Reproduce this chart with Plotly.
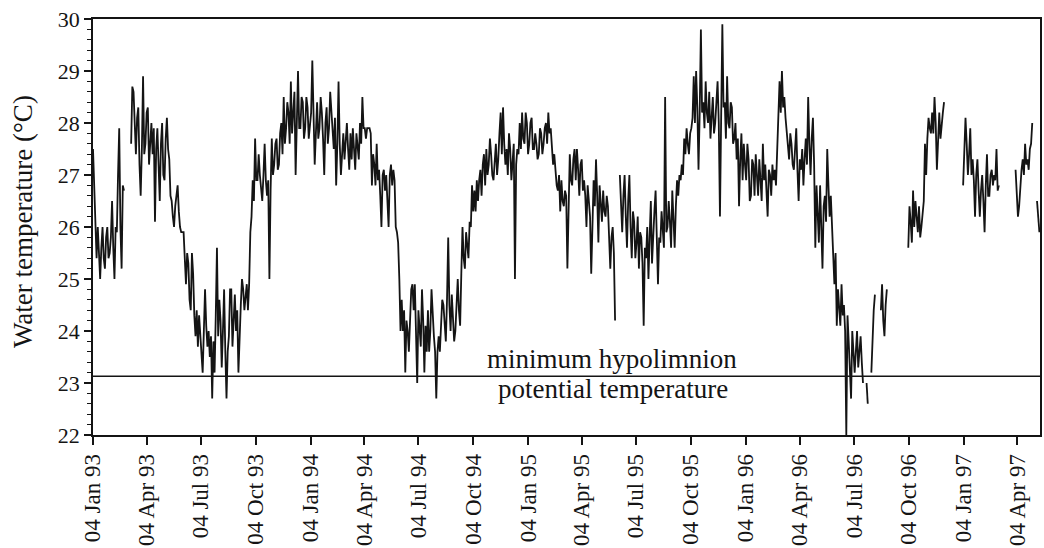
import pandas as pd
import plotly.graph_objects as go

# Water temperature sampled every 2 days from 04 Jan 1993 (None = no record)
start_date = "1993-01-04"
step = "2D"
temps = [
    27.5, 26.8, 26.2, 25.4, 26.0, 25.6, 25.0, 25.6, 26.0, 25.4,
    25.2, 25.8, 26.0, 25.4, 25.5, 25.8, 26.5, 25.6, 25.0, 26.0,
    25.9, 27.0, 27.9, 26.0, 25.2, 26.8, 26.7, None, None, None,
    None, None, 27.6, 28.7, 28.6, 27.8, 27.4, 28.1, 28.3, 27.2,
    26.6, 27.5, 28.9, 27.4, 27.6, 28.2, 28.3, 27.2, 27.7, 28.0,
    27.4, 27.9, 26.1, 27.5, 27.9, 27.2, 26.5, 27.6, 28.0, 27.0,
    26.9, 27.7, 28.1, 27.5, 27.3, 26.6, 26.5, 26.2, 26.0, 26.4,
    26.6, 26.8, 26.3, 26.0, 25.9, 25.9, 25.9, 25.4, 24.9, 25.5,
    25.3, 24.6, 24.4, 25.5, 25.1, 24.3, 23.9, 24.4, 23.7, 24.3,
    23.9, 23.5, 23.2, 24.0, 24.8, 24.1, 23.7, 24.0, 23.5, 23.9,
    22.7, 23.8, 23.2, 24.3, 25.6, 23.9, 24.6, 24.2, 23.3, 24.0,
    24.8, 23.6, 22.7, 23.6, 23.9, 24.8, 24.8, 23.7, 24.1, 24.7,
    24.0, 24.4, 23.2, 24.0, 24.5, 25.0, 24.8, 24.4, 24.6, 24.9,
    24.4, 24.9, 25.9, 26.2, 26.9, 26.5, 27.7, 26.9, 26.9, 27.4,
    27.0, 26.8, 26.5, 27.0, 27.6, 26.9, 26.6, 26.9, 25.0, 26.7,
    27.7, 27.0, 27.2, 27.6, 27.7, 27.1, 27.2, 27.8, 28.0, 27.4,
    28.5, 27.6, 27.9, 28.4, 28.2, 27.6, 28.8, 27.8, 28.2, 28.6,
    27.0, 28.1, 29.0, 27.9, 27.9, 28.5, 28.4, 27.7, 27.9, 28.5,
    28.3, 27.7, 27.9, 28.2, 29.2, 28.0, 27.2, 27.8, 28.4, 27.7,
    27.9, 28.5, 28.2, 27.7, 27.0, 28.0, 28.3, 27.6, 27.9, 28.6,
    28.2, 27.7, 27.5, 28.1, 26.8, 27.6, 28.8, 27.6, 27.0, 27.4,
    27.8, 27.3, 27.6, 28.0, 27.5, 27.1, 27.8, 27.3, 27.9, 27.4,
    27.1, 27.8, 27.6, 27.3, 28.0, 27.6, 28.5, 27.9, 27.9, 27.7,
    27.9, 27.9, 27.9, 27.8, 26.8, 27.4, 27.2, 26.8, 27.6, 26.9,
    27.1, 26.6, 26.0, 27.0, 27.1, 26.7, 27.0, 26.5, 26.0, 27.0,
    27.2, 26.8, 27.1, 26.9, 26.0, 25.9, 25.7, 25.0, 24.0, 24.6,
    24.0, 24.4, 23.2, 24.2, 24.0, 23.6, 24.2, 24.8, 24.9, 24.4,
    24.9, 24.0, 23.0, 24.4, 24.0, 23.7, 24.8, 24.2, 23.2, 24.1,
    23.6, 24.4, 23.6, 24.0, 24.8, 24.2, 23.9, 23.6, 22.7, 23.6,
    23.9, 23.6, 24.1, 24.6, 24.5, 24.1, 23.8, 24.6, 25.8, 24.5,
    24.0, 24.7, 24.3, 23.8, 24.0, 24.6, 25.0, 24.4, 24.1, 25.1,
    26.0, 25.4, 25.2, 25.9, 25.6, 25.4, 26.1, 26.0, 26.8, 26.3,
    26.7, 26.3, 26.9, 26.5, 26.9, 27.1, 26.6, 27.2, 27.4, 26.8,
    27.5, 27.0, 27.2, 27.7, 27.4, 27.0, 26.9, 27.4, 27.6, 27.0,
    27.3, 27.8, 28.2, 27.4, 28.3, 27.6, 27.2, 27.5, 27.0, 27.8,
    27.5, 26.9, 27.3, 27.6, 25.0, 27.2, 27.5, 27.4, 28.0, 27.5,
    28.2, 27.7, 27.6, 28.2, 28.0, 27.4, 27.6, 28.0, 28.1, 27.5,
    27.5, 27.8, 27.6, 27.3, 27.4, 27.9, 27.8, 27.4, 27.6, 27.9,
    28.0, 27.6, 28.2, 27.8, 27.9, 27.5, 27.2, 27.4, 27.0, 26.8,
    26.7, 27.0, 26.3, 26.9, 26.5, 26.4, 26.7, 26.6, 25.2, 26.6,
    27.4, 26.9, 26.8, 27.3, 27.5, 26.9, 27.5, 27.1, 26.6, 27.2,
    27.3, 26.7, 26.9, 26.6, 26.0, 26.8, 26.5, 26.2, 25.1, 26.4,
    26.9, 26.4, 27.3, 26.6, 25.7, 26.8, 26.5, 26.1, 26.7, 26.3,
    26.2, 26.6, 26.4, 25.8, 25.2, 25.8, 26.0, 25.5, 24.2, None,
    None, None, 27.0, 26.4, 25.9, 26.6, 27.0, 26.2, 25.6, 26.5,
    27.0, 26.0, 25.4, 26.3, 26.1, 25.4, 25.7, 26.2, 25.2, 25.9,
    25.8, 25.3, 24.1, 25.6, 25.4, 26.0, 25.0, 25.8, 26.5, 25.3,
    25.9, 26.3, 26.7, 25.6, 24.9, 25.8, 25.7, 26.3, 26.0, 25.6,
    28.5, 25.9, 26.0, 26.5, 26.1, 25.6, 26.7, 26.2, 25.6, 26.4,
    26.9, 26.6, 27.0, 26.9, 27.2, 27.0, 27.7, 27.4, 27.9, 27.6,
    27.4, 27.8, 27.9, 28.1, 28.9, 28.0, 29.0, 28.3, 27.1, 28.2,
    29.8, 28.2, 28.4, 27.9, 28.8, 28.2, 28.0, 28.6, 27.7, 28.1,
    28.5, 27.8, 28.0, 28.4, 28.8, 28.0, 26.2, 28.1, 29.9, 28.3,
    28.4, 27.7, 28.9, 28.0, 27.9, 28.4, 28.3, 27.6, 27.7, 28.0,
    27.3, 27.7, 26.4, 27.3, 27.8, 26.9, 27.6, 27.2, 26.9, 27.6,
    27.3, 26.5, 26.6, 27.3, 27.2, 26.6, 27.4, 27.0, 26.6, 27.3,
    26.8, 26.5, 27.6, 26.9, 27.2, 26.7, 26.2, 27.1, 27.0, 26.6,
    27.2, 26.9, 27.1, 26.8, 27.5, 27.9, 28.8, 28.2, 29.0, 28.3,
    28.5, 28.1, 27.8, 27.6, 27.3, 27.8, 27.6, 27.2, 27.1, 27.5,
    27.9, 27.1, 26.5, 27.3, 27.1, 27.5, 26.8, 27.3, 27.7, 27.2,
    28.5, 27.6, 27.0, 27.7, 28.1, 27.2, 25.6, 26.8, 26.2, 25.7,
    26.8, 26.0, 25.2, 26.4, 26.6, 26.1, 27.5, 26.8, 26.2, 26.6,
    26.1, 25.6, 24.9, 25.5, 24.1, 24.8, 24.5, 24.1, 24.9, 24.3,
    24.5, 24.0, 22.0, 24.3, 23.8, 23.3, 22.7, 24.0, 23.5, 23.2,
    23.6, 24.0, 23.3, 23.7, 23.9, 23.4, 23.0, None, None, 23.0,
    22.6, None, None, 23.2, 23.9, 24.4, 24.7, None, None, None,
    None, 24.4, 24.9, 24.2, 23.9, 24.5, 24.8, None, None, None,
    None, None, None, None, None, None, None, None, None, None,
    None, None, None, None,
    25.6, 26.4, 26.1, 25.7, 26.7, 26.0, 26.5, 26.1, 25.9, 26.4,
    25.8, 26.0, 26.3, 26.5, 27.6, 27.0, 27.7, 28.1, 27.9, 27.8,
    28.2, 27.8, 28.5, 28.0, 27.1, 27.9, 28.2, 27.7, 28.0, 28.2,
    28.4, None, None, None, None, None, None, None, None, None,
    None, None, None, None, None, None,
    26.8, 27.3, 28.1, 27.6, 27.0, 27.4, 27.9, 27.0, 27.3, 26.9,
    26.2, 27.0, 27.3, 26.7, 26.2, 26.7, 27.0, 26.5, 25.9, 26.8,
    27.4, 26.6, 26.6, 27.0, 27.1, 26.8, 27.0, 26.9, 27.5, 26.7,
    26.8, None, None, None, None, None, None, None, None, None,
    None, None, None, None,
    27.1, 26.5, 26.2, 26.4, 26.9, 27.1, 27.3, 27.0, 27.6, 27.2,
    27.3, 27.1, 27.5, 27.6, 28.0, None, None, None,
    26.5, 26.2, 25.9,
]
dates = pd.date_range(start_date, periods=len(temps), freq=step)

# Minimum hypolimnion potential temperature
threshold = 23.13
label_upper = "minimum hypolimnion"
label_lower = "potential temperature"

# Axis ticks
tick_dates = [
    "1993-01-04", "1993-04-04", "1993-07-04", "1993-10-04",
    "1994-01-04", "1994-04-04", "1994-07-04", "1994-10-04",
    "1995-01-04", "1995-04-04", "1995-07-04", "1995-10-04",
    "1996-01-04", "1996-04-04", "1996-07-04", "1996-10-04",
    "1997-01-04", "1997-04-04",
]
tick_text = [
    "04 Jan 93", "04 Apr 93", "04 Jul 93", "04 Oct 93",
    "04 Jan 94", "04 Apr 94", "04 Jul 94", "04 Oct 94",
    "04 Jan 95", "04 Apr 95", "04 Jul 95", "04 Oct 95",
    "04 Jan 96", "04 Apr 96", "04 Jul 96", "04 Oct 96",
    "04 Jan 97", "04 Apr 97",
]
x_range = ["1993-01-04", "1997-05-12"]
y_range = [22, 30]
y_title = "Water temperature (°C)"

ink = "#141414"
serif = "Liberation Serif, Times New Roman, serif"

fig = go.Figure()
fig.add_trace(go.Scatter(
    x=dates, y=temps, mode="lines",
    line=dict(color=ink, width=1.8),
    connectgaps=False, showlegend=False, hoverinfo="skip",
))

fig.add_shape(type="line", xref="paper", yref="y",
              x0=0, x1=1, y0=threshold, y1=threshold,
              line=dict(color=ink, width=1.5))

fig.add_annotation(text=label_upper, xref="paper", yref="y",
                   x=0.548, y=23.46, showarrow=False,
                   xanchor="center", yanchor="middle",
                   font=dict(family=serif, size=27, color=ink))
fig.add_annotation(text=label_lower, xref="paper", yref="y",
                   x=0.549, y=22.885, showarrow=False,
                   xanchor="center", yanchor="middle",
                   font=dict(family=serif, size=27, color=ink))
fig.add_annotation(text=y_title, xref="paper", yref="paper",
                   x=-0.0738, y=0.512, showarrow=False, textangle=-90,
                   xanchor="center", yanchor="middle",
                   font=dict(family=serif, size=27, color=ink))

fig.update_layout(
    width=1044, height=548,
    margin=dict(l=93, r=2, t=19, b=113),
    paper_bgcolor="white", plot_bgcolor="white",
    font=dict(family=serif, color=ink),
)
fig.update_xaxes(
    type="date", range=x_range,
    tickmode="array", tickvals=tick_dates, ticktext=tick_text,
    tickangle=-90, tickfont=dict(family=serif, size=23, color=ink),
    ticks="outside", ticklen=8, tickwidth=1.5, tickcolor=ink,
    showline=True, linecolor=ink, linewidth=1.6, mirror=True,
    showgrid=False, zeroline=False,
)
fig.update_yaxes(
    range=y_range, tickmode="linear", tick0=22, dtick=1,
    tickfont=dict(family=serif, size=22, color=ink),
    ticks="outside", ticklen=7, tickwidth=1.5, tickcolor=ink,
    minor=dict(dtick=0.2, ticks="outside", ticklen=4, tickwidth=1.1, tickcolor=ink),
    showline=True, linecolor=ink, linewidth=1.6, mirror=True,
    showgrid=False, zeroline=False,
)

fig.write_html("out.html")
